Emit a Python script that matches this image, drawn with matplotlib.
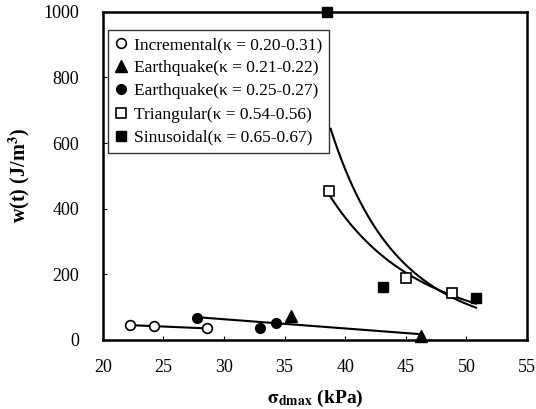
import numpy as np
import matplotlib
matplotlib.use("Agg")
import matplotlib.pyplot as plt

plt.rcParams['font.family'] = ['Liberation Serif', 'DejaVu Serif']
plt.rcParams['mathtext.fontset'] = 'stix'

# loading series: peak deviator stress (kPa) vs. energy density w(t) (J/m^3)
inc_x = [22.2, 24.2, 28.6]
inc_y = [45, 42, 35]
eqA_x = [35.5, 46.3]
eqA_y = [72, 12]
eqB_x = [27.8, 33.0, 34.3]
eqB_y = [68, 35, 52]
tri_x = [38.7, 45.0, 48.8]
tri_y = [454, 189, 143]
sin_x = [38.5, 43.1, 50.8]
sin_y = [1000, 161, 128]

labels = ['Incremental(κ = 0.20-0.31)', 'Earthquake(κ = 0.21-0.22)',
          'Earthquake(κ = 0.25-0.27)', 'Triangular(κ = 0.54-0.56)',
          'Sinusoidal(κ = 0.65-0.67)']


def linear_fit(x, y):
    return np.polyfit(x, y, 1)


def power_fit(x, y):
    b, lna = np.polyfit(np.log(x), np.log(y), 1)
    return np.exp(lna), b


fig = plt.figure(figsize=(5.36, 4.09), dpi=100)
ax = fig.add_axes([0.192, 0.169, 0.791, 0.802])

# trend lines
k = linear_fit(inc_x, inc_y)
xs = np.linspace(min(inc_x), max(inc_x), 50)
ax.plot(xs, np.polyval(k, xs), color='black', lw=1.5, zorder=2)

eq_x = eqA_x + eqB_x
eq_y = eqA_y + eqB_y
k = linear_fit(eq_x, eq_y)
xs = np.linspace(min(eq_x), max(eq_x), 50)
ax.plot(xs, np.polyval(k, xs), color='black', lw=1.5, zorder=2)

a, b = power_fit(tri_x, tri_y)
xs = np.linspace(min(tri_x), 50.8, 200)
ax.plot(xs, a * xs ** b, color='black', lw=1.5, zorder=2)

a, b = power_fit(sin_x, sin_y)
xs = np.linspace(38.8, max(sin_x), 200)
ax.plot(xs, a * xs ** b, color='black', lw=1.5, zorder=2)

# data markers
ms = 7
ax.plot(inc_x, inc_y, 'o', mfc='white', mec='black', mew=1.2, ms=ms,
        label=labels[0], zorder=3)
ax.plot(eqA_x, eqA_y, '^', mfc='black', mec='black', ms=ms + 1,
        label=labels[1], zorder=3, clip_on=False)
ax.plot(eqB_x, eqB_y, 'o', mfc='black', mec='black', ms=ms,
        label=labels[2], zorder=3)
ax.plot(tri_x, tri_y, 's', mfc='white', mec='black', mew=1.2, ms=ms,
        label=labels[3], zorder=3)
ax.plot(sin_x, sin_y, 's', mfc='black', mec='black', ms=ms,
        label=labels[4], zorder=3, clip_on=False)

ax.set_xlim(20, 55)
ax.set_ylim(0, 1000)
ax.set_xticks(np.arange(20, 56, 5))
ax.set_yticks(np.arange(0, 1001, 200))
ax.tick_params(direction='in', length=3, labelsize=13)
ax.tick_params(axis='x', pad=14)
ax.tick_params(axis='y', pad=17)
for s in ax.spines.values():
    s.set_linewidth(1.8)

ax.set_xlabel(r'$\mathbf{\sigma_{dmax}}$ (kPa)', fontsize=14, fontweight='bold', labelpad=8)
ax.set_ylabel(r'w(t) (J/m$^{\mathbf{3}}$)', fontsize=14.5, fontweight='bold', labelpad=8)

leg = ax.legend(loc='upper left', bbox_to_anchor=(0.0, 0.96), fontsize=12.5,
                frameon=True, fancybox=False, edgecolor='black',
                handlelength=0.7, handletextpad=0.4, borderpad=0.4,
                labelspacing=0.4, borderaxespad=0.3)
leg.get_frame().set_linewidth(1.0)
leg.set_zorder(5)

fig.savefig('out.png', dpi=100)
